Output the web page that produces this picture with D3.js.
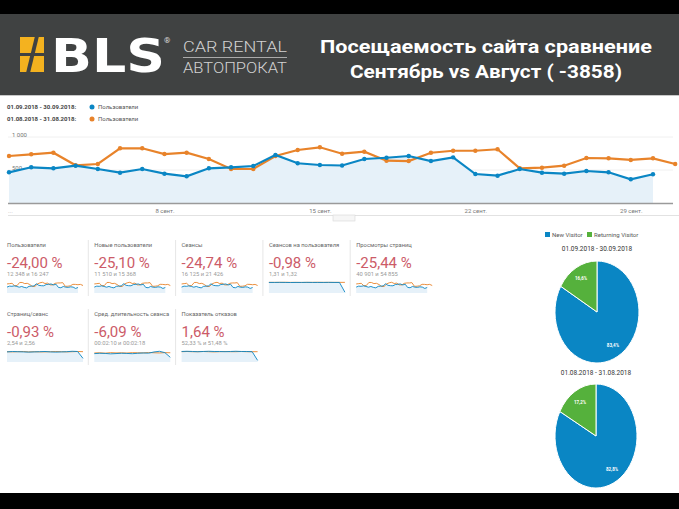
<!DOCTYPE html>
<html>
<head>
<meta charset="utf-8">
<script src="https://cdn.jsdelivr.net/npm/d3@7"></script>
<style>
  body { margin: 0; background: #fff; }
  svg { display: block; }
  text { font-family: Roboto, "Liberation Sans", sans-serif; }
</style>
</head>
<body>
<svg id="chart" width="679" height="509"></svg>
<script>
// ---- data ----
var sepUsers = [465, 541, 526, 565, 515, 459, 515, 444, 405, 526, 541, 561, 727, 602, 576,
                568, 667, 686, 712, 636, 692, 439, 414, 515, 459, 444, 485, 465, 359, 435];
var augUsers = [712, 738, 762, 571, 591, 829, 829, 742, 762, 667, 515, 515, 712, 803, 844,
                747, 777, 641, 636, 762, 792, 792, 814, 526, 535, 565, 682, 677, 652, 677, 591];
var tickDays = [8, 15, 22, 29];
var tickLabels = ["8 сент.", "15 сент.", "22 сент.", "29 сент."];
var yTicks = [500, 1000];
var periods = ["01.09.2018 - 30.09.2018:", "01.08.2018 - 31.08.2018:"];
var metricName = "Пользователи";

var cardTitles = ["Пользователи", "Новые пользователи", "Сеансы", "Сеансов на пользователя", "Просмотры страниц",
                  "Страниц/сеанс", "Сред. длительность сеанса", "Показатель отказов"];
var cardChanges = ["-24,00 %", "-25,10 %", "-24,74 %", "-0,98 %", "-25,44 %", "-0,93 %", "-6,09 %", "1,64 %"];
var cardTotals = ["12 348 и 16 247", "11 510 и 15 368", "16 125 и 21 426", "1,31 и 1,32", "40 901 и 54 855",
                  "2,54 и 2,56", "00:02:10 и 00:02:18", "52,33 % и 51,48 %"];
var sessPerUserSep = [1.31, 1.31, 1.32, 1.31, 1.30, 1.31, 1.31, 1.32, 1.31, 1.31, 1.31, 1.32, 1.31, 1.31, 0.1];
var sessPerUserAug = [1.32, 1.32, 1.32, 1.33, 1.32, 1.32, 1.31, 1.32, 1.32, 1.33, 1.32, 1.32, 1.32, 1.32, 1.32];
var pagesSep = [2.50, 2.60, 2.55, 2.50, 2.45, 2.50, 2.55, 2.60, 2.50, 2.45, 2.50, 2.55, 2.65, 2.60, 0.9];
var pagesAug = [2.55, 2.50, 2.55, 2.60, 2.50, 2.55, 2.50, 2.50, 2.55, 2.60, 2.55, 2.50, 2.55, 2.60, 2.55];
var durSep = [125, 130, 128, 122, 126, 130, 128, 124, 130, 135, 132, 150, 160, 140, 70];
var durAug = [135, 138, 132, 140, 136, 138, 134, 140, 138, 136, 142, 138, 135, 140, 138];
var bounceSep = [52, 53, 52, 51, 52, 53, 52, 52, 51, 52, 53, 52, 52, 51, 8];
var bounceAug = [51, 52, 51, 51, 52, 51, 50, 51, 52, 51, 51, 52, 51, 51, 51];
var sparkSep = [sepUsers, sepUsers, sepUsers, sessPerUserSep, sepUsers, pagesSep, durSep, bounceSep];
var sparkAug = [augUsers, augUsers, augUsers, sessPerUserAug, augUsers, pagesAug, durAug, bounceAug];

var pieLegend = ["New Visitor", "Returning Visitor"];
var pieTitles = ["01.09.2018 - 30.09.2018", "01.08.2018 - 31.08.2018"];
var pieSep = [83.4, 16.6];
var pieAug = [82.8, 17.2];
var pieLabels = [["83,4%", "16,6%"], ["82,8%", "17,2%"]];

var blue = "#0a86c4", orange = "#e8832a", areaFill = "#e6f1f9", green = "#55b13c", red = "#cc5b68";

var svg = d3.select("#chart");

// ---- header ----
svg.append("rect").attr("width", 679).attr("height", 509).attr("fill", "#fff");
svg.append("rect").attr("width", 679).attr("height", 14).attr("fill", "#000");
svg.append("rect").attr("y", 14).attr("width", 679).attr("height", 81).attr("fill", "#404242");
svg.append("line").attr("x1", 0).attr("x2", 679).attr("y1", 95.5).attr("y2", 95.5).attr("stroke", "#c8c8c8");
svg.append("rect").attr("y", 493).attr("width", 679).attr("height", 16).attr("fill", "#000");

var logo = svg.append("g");
logo.append("rect").attr("x", 20).attr("y", 37).attr("width", 24).attr("height", 35).attr("fill", "#f4b21f");
logo.append("path").attr("d", "M35,36 L39,36 L30,73 L26,73 Z").attr("fill", "#404242");
logo.append("rect").attr("x", 19).attr("y", 53).attr("width", 26).attr("height", 3).attr("fill", "#404242");
logo.append("text").attr("x", 51).attr("y", 72).attr("font-size", 47).attr("font-weight", "bold")
  .style("font-family", "'DejaVu Sans', sans-serif")
  .attr("textLength", 114).attr("lengthAdjust", "spacingAndGlyphs").attr("fill", "#fff").text("BLS");
logo.append("text").attr("x", 164).attr("y", 43).attr("font-size", 8).attr("fill", "#ddd").text("®");
logo.append("text").attr("x", 183).attr("y", 52).attr("font-size", 14).attr("font-weight", 300)
  .attr("textLength", 104).attr("lengthAdjust", "spacingAndGlyphs").attr("fill", "#d2d2d2").text("CAR RENTAL");
logo.append("line").attr("x1", 183).attr("x2", 287).attr("y1", 57.5).attr("y2", 57.5).attr("stroke", "#aaa");
logo.append("text").attr("x", 183).attr("y", 73).attr("font-size", 14).attr("font-weight", 300)
  .attr("textLength", 104).attr("lengthAdjust", "spacingAndGlyphs").attr("fill", "#d2d2d2").text("АВТОПРОКАТ");

svg.append("text").attr("x", 320).attr("y", 53).attr("font-size", 19).attr("font-weight", "bold")
  .attr("textLength", 332).attr("lengthAdjust", "spacingAndGlyphs").attr("fill", "#fff")
  .text("Посещаемость сайта сравнение");
svg.append("text").attr("x", 350).attr("y", 78).attr("font-size", 19).attr("font-weight", "bold")
  .attr("textLength", 272).attr("lengthAdjust", "spacingAndGlyphs").attr("fill", "#fff")
  .text("Сентябрь vs Август  ( -3858)");

// ---- main line chart ----
var x = d3.scaleLinear().domain([0, 29]).range([9, 653]);
var y = d3.scaleLinear().domain([0, 1000]).range([203, 137]);

var lg = svg.append("g").attr("font-size", 6);
[blue, orange].forEach(function (c, i) {
  var yy = 107 + i * 12;
  lg.append("text").attr("x", 7).attr("y", yy + 2).attr("font-weight", "bold").attr("fill", "#444").text(periods[i]);
  lg.append("circle").attr("cx", 92).attr("cy", yy).attr("r", 2.5).attr("fill", c);
  lg.append("text").attr("x", 98).attr("y", yy + 2).attr("fill", "#555").text(metricName);
});

svg.append("g").selectAll("line").data(yTicks).join("line")
  .attr("x1", 8).attr("x2", 673).attr("y1", function (d) { return y(d); }).attr("y2", function (d) { return y(d); })
  .attr("stroke", "#f0f0f0");

svg.append("path").datum(sepUsers)
  .attr("fill", areaFill)
  .attr("d", d3.area().x(function (d, i) { return x(i); }).y0(y(0)).y1(function (d) { return y(d); }));

var yAxis = svg.append("g").attr("transform", "translate(9,0)")
  .call(d3.axisRight(y).tickValues(yTicks).tickSize(0)
    .tickFormat(function (d) { return d3.format(",")(d).replace(",", " "); }));
yAxis.select(".domain").remove();
yAxis.selectAll("text").attr("font-size", 6).attr("fill", "#777").attr("dy", "-0.1em");

svg.append("line").attr("x1", 8).attr("x2", 673).attr("y1", y(0) + 0.5).attr("y2", y(0) + 0.5)
  .attr("stroke", "#9a9a9a").attr("stroke-width", 1.5);

var line = d3.line().x(function (d, i) { return x(i); }).y(function (d) { return y(d); });
[[augUsers, orange], [sepUsers, blue]].forEach(function (s) {
  svg.append("path").datum(s[0]).attr("fill", "none").attr("stroke", s[1]).attr("stroke-width", 2.2).attr("d", line);
  svg.append("g").selectAll("circle").data(s[0]).join("circle")
    .attr("cx", function (d, i) { return x(i); }).attr("cy", function (d) { return y(d); })
    .attr("r", 2.2).attr("fill", s[1]);
});

var xAxis = svg.append("g").attr("transform", "translate(0,206)")
  .call(d3.axisBottom(x).tickValues(tickDays.map(function (d) { return d - 1; })).tickSize(0)
    .tickFormat(function (d, i) { return tickLabels[i]; }));
xAxis.select(".domain").remove();
xAxis.selectAll("text").attr("font-size", 6).attr("fill", "#777");
svg.append("text").attr("x", 8).attr("y", 213).attr("font-size", 6).attr("fill", "#aaa").text("...");
svg.append("line").attr("x1", 8).attr("x2", 679).attr("y1", 215.5).attr("y2", 215.5).attr("stroke", "#e2e2e2");
svg.append("rect").attr("x", 333).attr("y", 215).attr("width", 22).attr("height", 6)
  .attr("fill", "#f6f6f6").attr("stroke", "#d8d8d8").attr("stroke-width", 0.6);

// ---- scorecards ----
cardTitles.forEach(function (t, i) {
  var col = i < 5 ? i : i - 5, row = i < 5 ? 0 : 1;
  var cx = 7 + col * 87.3, cy = row === 0 ? 240 : 309;
  var g = svg.append("g").attr("transform", "translate(" + cx + "," + cy + ")");
  if (col > 0) g.append("line").attr("x1", -6).attr("x2", -6).attr("y1", 0).attr("y2", 56).attr("stroke", "#e6e6e6");
  g.append("text").attr("y", 7).attr("font-size", 5.8).attr("fill", "#666").text(t);
  g.append("text").attr("y", 28).attr("font-size", 15).attr("fill", red).text(cardChanges[i]);
  g.append("text").attr("y", 36).attr("font-size", 5.8).attr("fill", "#999").text(cardTotals[i]);

  var a = sparkAug[i], s = sparkSep[i];
  var sx = d3.scaleLinear().domain([0, a.length - 1]).range([0, 76]);
  var sy = d3.scaleLinear().domain([0, d3.max(a.concat(s)) * 1.12]).range([53, 41]);
  var sxs = d3.scaleLinear().domain([0, a.length - 1]).range([0, 76 * (s.length - 1) / (a.length - 1)]);
  g.append("path").datum(s).attr("fill", areaFill)
    .attr("d", d3.area().x(function (d, k) { return sxs(k); }).y0(53).y1(function (d) { return sy(d); }));
  g.append("path").datum(a).attr("fill", "none").attr("stroke", orange).attr("stroke-width", 0.9)
    .attr("d", d3.line().x(function (d, k) { return sx(k); }).y(function (d) { return sy(d); }));
  g.append("path").datum(s).attr("fill", "none").attr("stroke", blue).attr("stroke-width", 0.9)
    .attr("d", d3.line().x(function (d, k) { return sxs(k); }).y(function (d) { return sy(d); }));
});

// ---- pies ----
var pl = svg.append("g").attr("font-size", 6).attr("fill", "#555");
[blue, green].forEach(function (c, i) {
  var lx = i === 0 ? 547 : 589;
  pl.append("rect").attr("x", lx - 2).attr("y", 232).attr("width", 5).attr("height", 5).attr("fill", c);
  pl.append("text").attr("x", lx + 5).attr("y", 237).text(pieLegend[i]);
});

var pie = d3.pie().sort(null).value(function (d) { return d; });
var arc = d3.arc().innerRadius(0).outerRadius(1);
var labelArc = d3.arc().innerRadius(0.76).outerRadius(0.76);
[[pieSep, 597, 312, 42, 51, 251], [pieAug, 596, 436, 41, 52, 375]].forEach(function (p, k) {
  svg.append("text").attr("x", p[1]).attr("y", p[5]).attr("text-anchor", "middle")
    .attr("font-size", 6.5).attr("fill", "#333").text(pieTitles[k]);
  var g = svg.append("g").attr("transform", "translate(" + p[1] + "," + p[2] + ")");
  g.append("g").attr("transform", "scale(" + p[3] + "," + p[4] + ")")
    .selectAll("path").data(pie(p[0])).join("path")
    .attr("d", arc).attr("fill", function (d, i) { return [blue, green][i]; })
    .attr("stroke", "#fff").attr("stroke-width", 1).attr("vector-effect", "non-scaling-stroke");
  g.selectAll("text").data(pie(p[0])).join("text")
    .attr("x", function (d) { return labelArc.centroid(d)[0] * p[3]; })
    .attr("y", function (d) { return labelArc.centroid(d)[1] * p[4] + 1.5; })
    .attr("text-anchor", "middle").attr("font-size", 4.5).attr("font-weight", "bold").attr("fill", "#fff")
    .text(function (d, i) { return pieLabels[k][i]; });
});
</script>
</body>
</html>
